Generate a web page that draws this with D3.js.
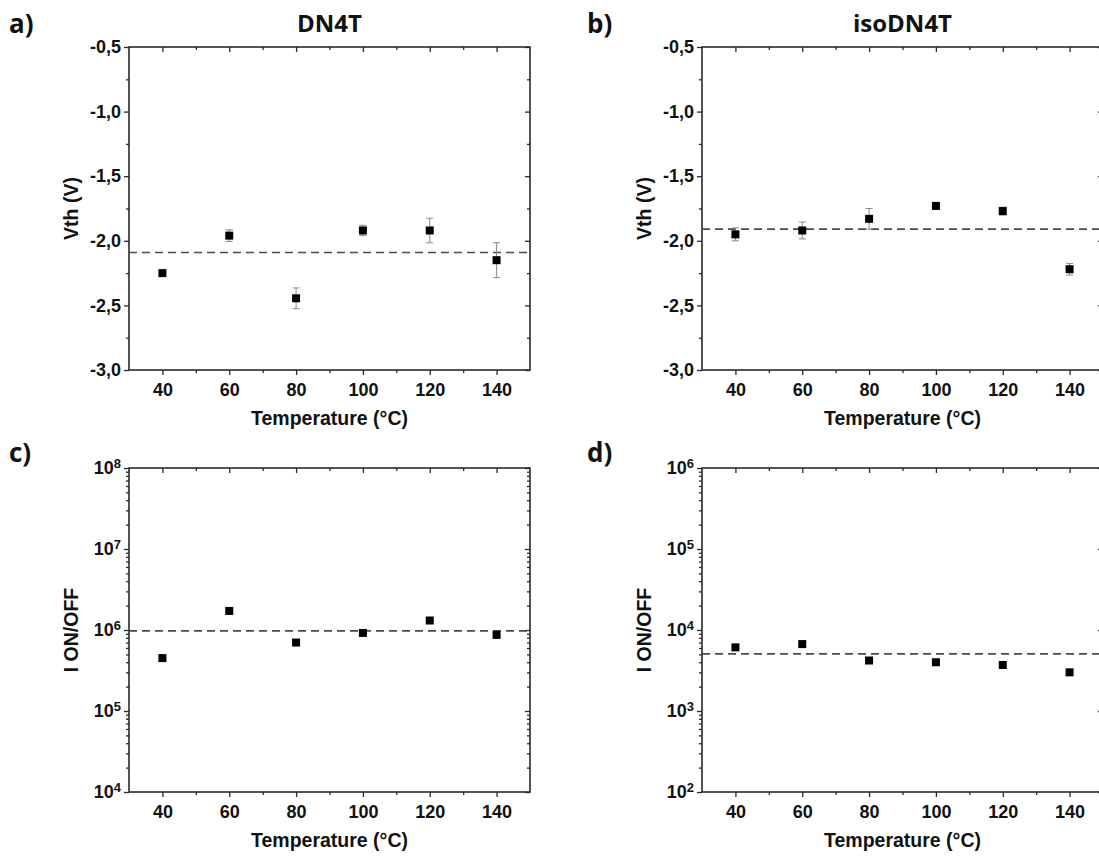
<!DOCTYPE html>
<html><head><meta charset="utf-8">
<script src="https://cdn.jsdelivr.net/npm/d3@7"></script>
<style>
body{margin:0;background:#fff;}
svg{display:block;}
</style></head>
<body>
<script>
// ---- data ----
const temps = [40, 60, 80, 100, 120, 140];
const xTicks = [40, 60, 80, 100, 120, 140];
const xMinorTicks = [50, 70, 90, 110, 130];

const vthDN4T    = [-2.25, -1.96, -2.445, -1.92, -1.92, -2.15];
const vthDN4TErr = [0.02, 0.045, 0.08, 0.04, 0.095, 0.135];
const vthDN4TMean = -2.09;

const vthIso    = [-1.95, -1.92, -1.83, -1.73, -1.77, -2.22];
const vthIsoErr = [0.05, 0.065, 0.08, 0.02, 0.03, 0.045];
const vthIsoMean = -1.91;

const onoffDN4T = [4.5e5, 1.72e6, 7.0e5, 9.2e5, 1.31e6, 8.7e5];
const onoffDN4TMean = 9.75e5;

const onoffIso = [6.1e3, 6.7e3, 4.2e3, 4.0e3, 3.7e3, 3.0e3];
const onoffIsoMean = 5.07e3;

const vthTicks = [-0.5, -1.0, -1.5, -2.0, -2.5, -3.0];
const vthMinorTicks = [-0.75, -1.25, -1.75, -2.25, -2.75];
const onoffDN4TDecades = [1e4, 1e5, 1e6, 1e7, 1e8];
const onoffIsoDecades = [1e2, 1e3, 1e4, 1e5, 1e6];

const panelTitles = ["DN4T", "isoDN4T"];
const panelLetters = ["a)", "b)", "c)", "d)"];
const xLabel = "Temperature (°C)";
const vthLabel = "Vth (V)";
const onoffLabel = "I ON/OFF";

// ---- drawing ----
const W = 1099, H = 859;
const svg = d3.select("body").append("svg").attr("width", W).attr("height", H);
const AX = "#2a2a2a";
const ARIAL = "'Liberation Sans', Arial, Helvetica, sans-serif";
const CAL = "'Open Sans', 'Noto Sans', sans-serif";
const TICK = 18;

function setFont(sel, size, family) {
  sel.attr("font-family", family || ARIAL).attr("font-size", size).attr("font-weight", "bold").attr("fill", "#111");
}

function logMinors(decades) {
  const out = [];
  for (let i = 0; i < decades.length - 1; i++)
    for (let k = 2; k <= 9; k++) out.push(decades[i] * k);
  return out;
}

function drawPanel(o) {
  const g = svg.append("g");
  const x = d3.scaleLinear().domain([30, 150]).range([o.x0, o.x1]);
  const y = (o.log ? d3.scaleLog() : d3.scaleLinear()).domain(o.yDomain).range([o.y1, o.y0]);

  const styleAxis = sel => {
    sel.attr("font-family", ARIAL).attr("font-size", TICK).attr("font-weight", "bold");
    sel.select(".domain").remove();
    sel.selectAll(".tick line").attr("stroke", AX).attr("stroke-width", 1.3);
    sel.selectAll(".tick text").call(setFont, TICK);
  };

  // bottom axis (outward)
  g.append("g").attr("transform", `translate(0,${o.y1})`)
    .call(d3.axisBottom(x).tickValues(o.xTicks).tickSize(5).tickPadding(8).tickFormat(d => String(d)))
    .call(styleAxis);
  g.append("g").attr("transform", `translate(0,${o.y1})`)
    .call(d3.axisBottom(x).tickValues(o.xMinor).tickSize(3).tickFormat(""))
    .call(styleAxis);
  // top axis (inward)
  g.append("g").attr("transform", `translate(0,${o.y0})`)
    .call(d3.axisTop(x).tickValues(o.xTicks).tickSize(-5).tickFormat(""))
    .call(styleAxis);
  g.append("g").attr("transform", `translate(0,${o.y0})`)
    .call(d3.axisTop(x).tickValues(o.xMinor).tickSize(-3).tickFormat(""))
    .call(styleAxis);

  // left axis (outward)
  const left = g.append("g").attr("transform", `translate(${o.x0},0)`)
    .call(d3.axisLeft(y).tickValues(o.yTicks).tickSize(5).tickPadding(3)
      .tickFormat(o.log ? (() => "") : (d => d.toFixed(1).replace(".", ","))))
    .call(styleAxis);
  if (o.log) {
    left.selectAll(".tick text").each(function (d) {
      const t = d3.select(this);
      t.text(null);
      t.append("tspan").text("10");
      t.append("tspan").attr("dy", "-0.5em").attr("font-size", 13)
        .text(Math.round(Math.log10(d)));
    });
  }
  g.append("g").attr("transform", `translate(${o.x0},0)`)
    .call(d3.axisLeft(y).tickValues(o.yMinor).tickSize(3).tickFormat(""))
    .call(styleAxis);
  // right axis (inward)
  g.append("g").attr("transform", `translate(${o.x1},0)`)
    .call(d3.axisRight(y).tickValues(o.yTicks).tickSize(-5).tickFormat(""))
    .call(styleAxis);
  g.append("g").attr("transform", `translate(${o.x1},0)`)
    .call(d3.axisRight(y).tickValues(o.yMinor).tickSize(-3).tickFormat(""))
    .call(styleAxis);

  // frame
  g.append("rect").attr("x", o.x0).attr("y", o.y0)
    .attr("width", o.x1 - o.x0).attr("height", o.y1 - o.y0)
    .attr("fill", "none").attr("stroke", AX).attr("stroke-width", 1.6);

  // mean dashed line
  g.append("line").attr("x1", o.x0).attr("x2", o.x1)
    .attr("y1", y(o.mean)).attr("y2", y(o.mean))
    .attr("stroke", "#4a4a4a").attr("stroke-width", 1.6).attr("stroke-dasharray", "8,5");

  // error bars
  if (o.err) {
    const eb = g.append("g").attr("stroke", "#8a8a8a").attr("stroke-width", 1);
    o.values.forEach((v, i) => {
      const cx = x(o.temps[i]), e = o.err[i];
      eb.append("line").attr("x1", cx).attr("x2", cx).attr("y1", y(v - e)).attr("y2", y(v + e));
      eb.append("line").attr("x1", cx - 3.5).attr("x2", cx + 3.5).attr("y1", y(v - e)).attr("y2", y(v - e));
      eb.append("line").attr("x1", cx - 3.5).attr("x2", cx + 3.5).attr("y1", y(v + e)).attr("y2", y(v + e));
    });
  }

  // markers
  g.selectAll("rect.pt").data(o.values).join("rect").attr("class", "pt")
    .attr("x", (d, i) => x(o.temps[i]) - 4).attr("y", d => y(d) - 4)
    .attr("width", 8).attr("height", 8).attr("fill", "#000");

  // axis labels
  g.append("text").attr("x", (o.x0 + o.x1) / 2).attr("y", o.y1 + 55)
    .attr("text-anchor", "middle").call(setFont, 19.5).text(o.xLabel);
  g.append("text").attr("transform", `translate(${o.x0 - 51},${(o.y0 + o.y1) / 2}) rotate(-90)`)
    .attr("text-anchor", "middle").call(setFont, 19.5).text(o.yLabel);

  // panel letter
  svg.append("text").attr("x", o.letterX).attr("y", o.letterY)
    .call(setFont, 26, CAL).text(o.letter);
  if (o.title) {
    svg.append("text").attr("x", (o.x0 + o.x1) / 2).attr("y", 32).attr("text-anchor", "middle")
      .call(setFont, 24, CAL).text(o.title);
  }
}

const common = { temps: temps, xTicks: xTicks, xMinor: xMinorTicks, xLabel: xLabel };

drawPanel(Object.assign({}, common, {
  x0: 129, x1: 530, y0: 47, y1: 370, log: false, yDomain: [-3.0, -0.5],
  yTicks: vthTicks, yMinor: vthMinorTicks, values: vthDN4T, err: vthDN4TErr, mean: vthDN4TMean,
  yLabel: vthLabel, letter: panelLetters[0], letterX: 9, letterY: 33, title: panelTitles[0]
}));
drawPanel(Object.assign({}, common, {
  x0: 702, x1: 1103, y0: 47, y1: 370, log: false, yDomain: [-3.0, -0.5],
  yTicks: vthTicks, yMinor: vthMinorTicks, values: vthIso, err: vthIsoErr, mean: vthIsoMean,
  yLabel: vthLabel, letter: panelLetters[1], letterX: 587, letterY: 33, title: panelTitles[1]
}));
drawPanel(Object.assign({}, common, {
  x0: 129, x1: 530, y0: 468, y1: 792, log: true, yDomain: [1e4, 1e8],
  yTicks: onoffDN4TDecades, yMinor: logMinors(onoffDN4TDecades), values: onoffDN4T, err: null, mean: onoffDN4TMean,
  yLabel: onoffLabel, letter: panelLetters[2], letterX: 9, letterY: 462, title: null
}));
drawPanel(Object.assign({}, common, {
  x0: 702, x1: 1103, y0: 468, y1: 792, log: true, yDomain: [1e2, 1e6],
  yTicks: onoffIsoDecades, yMinor: logMinors(onoffIsoDecades), values: onoffIso, err: null, mean: onoffIsoMean,
  yLabel: onoffLabel, letter: panelLetters[3], letterX: 587, letterY: 462, title: null
}));
</script>
</body></html>
